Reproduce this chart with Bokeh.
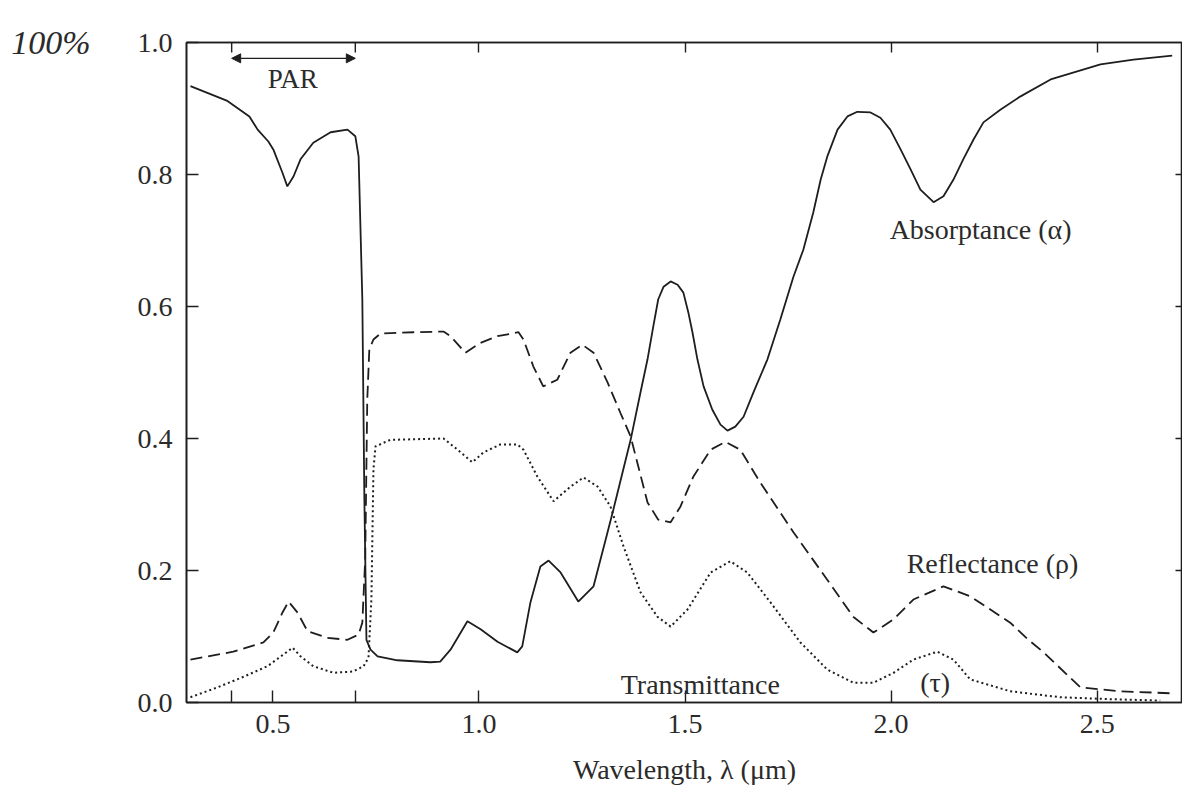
from bokeh.plotting import figure
from bokeh.models import (LinearAxis, FixedTicker, Label, Arrow, NormalHead,
                          Range1d, CustomJSTickFormatter)
from bokeh.embed import file_html
from bokeh.resources import INLINE

# ---- data (wavelength in micrometres, fraction) ----
wl_abs = [0.300, 0.388, 0.443, 0.463, 0.489, 0.501, 0.523, 0.535, 0.550, 0.567,
          0.598, 0.640, 0.681, 0.700, 0.708, 0.717, 0.722, 0.727, 0.737, 0.754,
          0.802, 0.882, 0.906, 0.931, 0.972, 1.004, 1.045, 1.093, 1.105, 1.125,
          1.149, 1.169, 1.198, 1.241, 1.278, 1.312, 1.326, 1.368, 1.392, 1.409,
          1.423, 1.435, 1.448, 1.465, 1.482, 1.496, 1.508, 1.518, 1.530, 1.545,
          1.566, 1.586, 1.603, 1.622, 1.642, 1.666, 1.700, 1.731, 1.763, 1.787,
          1.811, 1.829, 1.845, 1.870, 1.894, 1.918, 1.950, 1.974, 1.998, 2.023,
          2.047, 2.071, 2.103, 2.127, 2.151, 2.175, 2.200, 2.224, 2.265, 2.313,
          2.387, 2.508, 2.588, 2.682]
absorptance = [0.934, 0.912, 0.888, 0.868, 0.850, 0.838, 0.803, 0.782, 0.797, 0.823,
               0.848, 0.864, 0.868, 0.858, 0.827, 0.611, 0.308, 0.095, 0.080, 0.070,
               0.064, 0.061, 0.062, 0.080, 0.123, 0.111, 0.092, 0.076, 0.085, 0.152,
               0.206, 0.215, 0.197, 0.153, 0.176, 0.258, 0.292, 0.398, 0.470, 0.520,
               0.570, 0.611, 0.630, 0.638, 0.633, 0.621, 0.591, 0.561, 0.520, 0.479,
               0.444, 0.421, 0.412, 0.418, 0.433, 0.470, 0.520, 0.580, 0.645, 0.686,
               0.742, 0.792, 0.827, 0.868, 0.888, 0.895, 0.894, 0.886, 0.868, 0.838,
               0.808, 0.777, 0.758, 0.767, 0.792, 0.823, 0.853, 0.879, 0.898, 0.918,
               0.944, 0.967, 0.974, 0.980]

wl_ref = [0.300, 0.404, 0.477, 0.501, 0.523, 0.538, 0.560, 0.584, 0.632, 0.681,
          0.708, 0.717, 0.724, 0.729, 0.734, 0.744, 0.761, 0.841, 0.914, 0.931,
          0.967, 1.004, 1.045, 1.096, 1.108, 1.132, 1.156, 1.190, 1.222, 1.251,
          1.278, 1.312, 1.343, 1.368, 1.409, 1.435, 1.465, 1.489, 1.520, 1.562,
          1.598, 1.634, 1.683, 1.763, 1.845, 1.908, 1.957, 2.006, 2.054, 2.127,
          2.192, 2.289, 2.333, 2.370, 2.459, 2.556, 2.677]
reflectance = [0.065, 0.077, 0.091, 0.106, 0.136, 0.153, 0.136, 0.108, 0.098, 0.095,
               0.103, 0.121, 0.217, 0.459, 0.535, 0.550, 0.559, 0.561, 0.562, 0.555,
               0.530, 0.545, 0.555, 0.561, 0.550, 0.509, 0.479, 0.489, 0.530, 0.542,
               0.530, 0.485, 0.439, 0.403, 0.303, 0.277, 0.273, 0.297, 0.342, 0.383,
               0.395, 0.383, 0.333, 0.258, 0.186, 0.130, 0.106, 0.126, 0.156, 0.176,
               0.161, 0.121, 0.095, 0.076, 0.023, 0.017, 0.014]

wl_tra = [0.300, 0.366, 0.429, 0.487, 0.526, 0.548, 0.567, 0.598, 0.647, 0.695,
          0.720, 0.732, 0.739, 0.744, 0.749, 0.785, 0.914, 0.948, 0.984, 1.011,
          1.052, 1.093, 1.108, 1.142, 1.181, 1.222, 1.254, 1.288, 1.319, 1.351,
          1.392, 1.433, 1.465, 1.506, 1.562, 1.610, 1.651, 1.707, 1.780, 1.845,
          1.908, 1.957, 2.006, 2.054, 2.112, 2.151, 2.192, 2.289, 2.410, 2.532,
          2.653]
transmittance = [0.008, 0.023, 0.039, 0.055, 0.073, 0.083, 0.070, 0.055, 0.045, 0.047,
                 0.055, 0.068, 0.156, 0.353, 0.388, 0.398, 0.400, 0.383, 0.364, 0.379,
                 0.391, 0.391, 0.383, 0.342, 0.305, 0.327, 0.341, 0.327, 0.297, 0.236,
                 0.167, 0.130, 0.115, 0.141, 0.197, 0.214, 0.197, 0.152, 0.091, 0.050,
                 0.030, 0.030, 0.045, 0.065, 0.077, 0.065, 0.035, 0.017, 0.008, 0.005,
                 0.003]

x_ticks = [0.4, 0.5, 0.7, 1.0, 1.5, 2.0, 2.5]
x_labels_shown = [0.5, 1.0, 1.5, 2.0, 2.5]
y_ticks = [0.0, 0.2, 0.4, 0.6, 0.8, 1.0]
par_range = [0.4, 0.7]

INK = "#1e1e1e"
TXT = "#2b2b2b"
FONT = "Liberation Serif"

p = figure(frame_width=996, frame_height=660,
           min_border_left=186, min_border_top=42, min_border_bottom=92,
           min_border_right=0,
           x_range=Range1d(0.2904, 2.707), y_range=Range1d(0.0, 1.0),
           x_axis_location=None, y_axis_location=None,
           output_backend="svg", toolbar_location=None)
p.grid.visible = False
p.outline_line_color = INK
p.outline_line_width = 1.6
p.background_fill_color = "white"
p.border_fill_color = "white"

shown = ",".join(str(v) for v in x_labels_shown)
xfmt = CustomJSTickFormatter(code=f"""
const shown=[{shown}];
for (const s of shown) {{ if (Math.abs(tick-s)<1e-6) return tick.toFixed(1); }}
return '';
""")
yfmt = CustomJSTickFormatter(code="return tick.toFixed(1);")
blank = CustomJSTickFormatter(code="return '';")


def style_axis(ax, tick_in, labels=True):
    ax.axis_line_color = INK
    ax.axis_line_width = 1.6
    ax.major_tick_line_color = INK
    ax.major_tick_line_width = 1.4
    ax.major_tick_in = tick_in
    ax.major_tick_out = 0
    ax.minor_tick_line_color = None
    if labels:
        ax.major_label_text_font = FONT
        ax.major_label_text_font_size = "28px"
        ax.major_label_text_color = TXT
    else:
        ax.major_label_text_font_size = "0px"
        ax.major_label_standoff = 0


xb = LinearAxis(ticker=FixedTicker(ticks=x_ticks), formatter=xfmt,
                axis_label="Wavelength, λ (μm)")
style_axis(xb, 12)
xb.major_label_standoff = 12
xb.axis_label_text_font = FONT
xb.axis_label_text_font_size = "28px"
xb.axis_label_text_font_style = "normal"
xb.axis_label_text_color = TXT
xb.axis_label_standoff = 18
p.add_layout(xb, "below")

yl = LinearAxis(ticker=FixedTicker(ticks=y_ticks), formatter=yfmt)
style_axis(yl, 12)
yl.major_label_standoff = 14
p.add_layout(yl, "left")

# handwritten "100%" mark next to the 1.0 level
ypct = LinearAxis(ticker=FixedTicker(ticks=[1.0]),
                  formatter=CustomJSTickFormatter(code="return '100%';"))
ypct.axis_line_color = None
ypct.major_tick_line_color = None
ypct.minor_tick_line_color = None
ypct.major_tick_in = 0
ypct.major_tick_out = 0
ypct.major_label_standoff = 44
ypct.major_label_text_font = FONT
ypct.major_label_text_font_style = "italic"
ypct.major_label_text_font_size = "34px"
ypct.major_label_text_color = TXT
p.add_layout(ypct, "left")

xt = LinearAxis(ticker=FixedTicker(ticks=x_labels_shown[1:]), formatter=blank)
style_axis(xt, 10, labels=False)
p.add_layout(xt, "above")

yr = LinearAxis(ticker=FixedTicker(ticks=y_ticks[1:-1]), formatter=blank)
style_axis(yr, 7, labels=False)
p.add_layout(yr, "right")

# curves
p.line(wl_abs, absorptance, line_color=INK, line_width=1.8)
p.line(wl_ref, reflectance, line_color=INK, line_width=1.8, line_dash="12 6")
p.line(wl_tra, transmittance, line_color=INK, line_width=2.0, line_dash="2 3")

# PAR marker
p.segment(x0=par_range, y0=[1.0, 1.0], x1=par_range, y1=[0.985, 0.985],
          line_color=INK, line_width=1.4)
p.add_layout(Arrow(x_start=par_range[0], x_end=par_range[1], y_start=0.976, y_end=0.976,
                   line_color=INK, line_width=1.4,
                   start=NormalHead(size=9, fill_color=INK, line_color=INK),
                   end=NormalHead(size=9, fill_color=INK, line_color=INK)))


def lab(x, y, text, size="28px", align="center"):
    p.add_layout(Label(x=x, y=y, text=text, text_font=FONT, text_font_size=size,
                       text_color=TXT, text_align=align, text_baseline="middle"))


lab(0.548, 0.945, "PAR", size="27px")
lab(2.217, 0.716, "Absorptance (α)")
lab(2.246, 0.211, "Reflectance (ρ)")
lab(1.537, 0.028, "Transmittance")
lab(2.107, 0.030, "(τ)")

open("out.html", "w").write(file_html(p, INLINE))
